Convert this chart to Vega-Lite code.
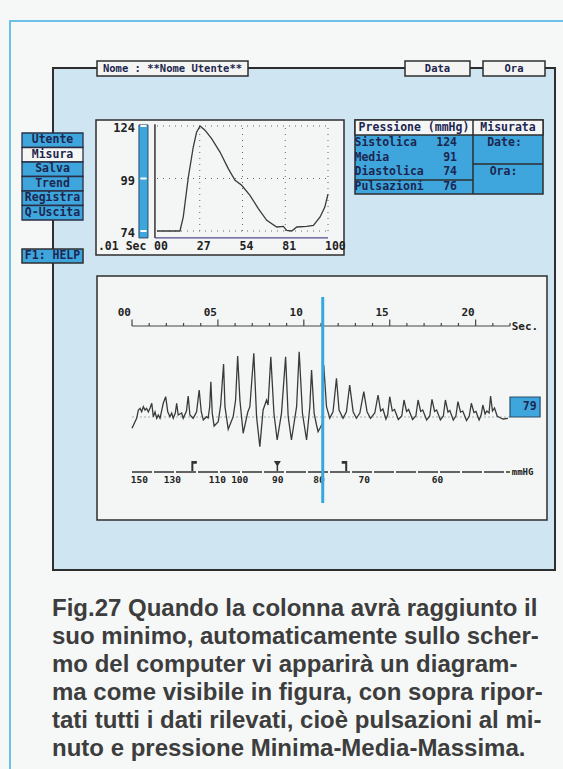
{
"$schema": "https://vega.github.io/schema/vega-lite/v6.json",
"width": 502, "height": 502, "autosize": "none",
"padding": {"left": 53, "top": 68, "right": 8, "bottom": 199},
"background": "#f6f8f8",
"config": {"view": {"fill": "#cfe5f1", "stroke": "#2e2e2e", "strokeWidth": 2}, "text": {"font": "DejaVu Sans Mono", "fontSize": 11.5, "fontWeight": "bold", "color": "#1d2650"}},
"datasets": {
"etichette": [{"testo":"Nome : **Nome Utente**"},{"testo":"Data"},{"testo":"Ora"},{"testo":"F1: HELP"},{"testo":"Pressione (mmHg)"},{"testo":"Misurata"},{"testo":"Date:"},{"testo":"Ora:"},{"testo":".01 Sec"},{"testo":"Sec."},{"testo":"mmHG"}],
"menu": [{"voce":"Utente"},{"voce":"Misura"},{"voce":"Salva"},{"voce":"Trend"},{"voce":"Registra"},{"voce":"Q-Uscita"}],
"pressioni": [{"voce":"Sistolica","valore":124},{"voce":"Media","valore":91},{"voce":"Diastolica","valore":74},{"voce":"Pulsazioni","valore":76}],
"tick_piccolo_x": [{"t":0,"etichetta":"00"},{"t":27,"etichetta":"27"},{"t":54,"etichetta":"54"},{"t":81,"etichetta":"81"},{"t":108,"etichetta":"100"}],
"tick_piccolo_y": [{"p":74},{"p":99},{"p":124}],
"curva": [{"t":0,"p":74},{"t":14.5,"p":74},{"t":16.6,"p":80.7},{"t":19.8,"p":99.7},{"t":22.9,"p":114},{"t":25,"p":121},{"t":27.2,"p":124},{"t":30.3,"p":122},{"t":34.5,"p":118},{"t":39.8,"p":111.6},{"t":45,"p":103.7},{"t":49.3,"p":98.1},{"t":53.5,"p":95.8},{"t":58.7,"p":91},{"t":64,"p":84.7},{"t":69.3,"p":79.1},{"t":75.6,"p":75.9},{"t":79.8,"p":76.2},{"t":81.9,"p":74.3},{"t":85.1,"p":74},{"t":88.3,"p":75.9},{"t":94.6,"p":76.2},{"t":98.8,"p":76.7},{"t":103,"p":80.7},{"t":106,"p":85.4},{"t":108,"p":91.5}],
"onda": [{"t":0,"a":-1.13},{"t":0.27,"a":-0.13},{"t":0.37,"a":0.7},{"t":0.47,"a":0.87},{"t":0.56,"a":0.53},{"t":0.66,"a":1.03},{"t":0.76,"a":0.7},{"t":0.85,"a":0.87},{"t":0.95,"a":0.5},{"t":1.05,"a":0.9},{"t":1.15,"a":1.37},{"t":1.24,"a":0.03},{"t":1.34,"a":0.5},{"t":1.44,"a":-0.13},{"t":1.53,"a":0.2},{"t":1.63,"a":-0.13},{"t":1.82,"a":1.37},{"t":1.96,"a":2.03},{"t":2.08,"a":0.53},{"t":2.21,"a":0.03},{"t":2.31,"a":0.4},{"t":2.4,"a":-0.13},{"t":2.52,"a":0.4},{"t":2.6,"a":1.37},{"t":2.69,"a":0.2},{"t":2.89,"a":0.4},{"t":2.98,"a":-0.13},{"t":3.17,"a":0.6},{"t":3.27,"a":2.1},{"t":3.37,"a":0.2},{"t":3.56,"a":-0.13},{"t":3.76,"a":0.53},{"t":3.91,"a":2.7},{"t":4.03,"a":0.53},{"t":4.15,"a":-0.3},{"t":4.34,"a":0.03},{"t":4.43,"a":-0.1},{"t":4.52,"a":1.0},{"t":4.59,"a":3.53},{"t":4.67,"a":0.37},{"t":4.78,"a":-0.9},{"t":5.02,"a":-0.47},{"t":5.16,"a":1.2},{"t":5.33,"a":5.3},{"t":5.41,"a":1.03},{"t":5.6,"a":-1.23},{"t":5.89,"a":0.03},{"t":6.03,"a":1.7},{"t":6.15,"a":6.1},{"t":6.28,"a":1.7},{"t":6.47,"a":-1.63},{"t":6.74,"a":0.5},{"t":6.86,"a":1.03},{"t":7.09,"a":6.37},{"t":7.25,"a":0.03},{"t":7.44,"a":-2.97},{"t":7.63,"a":0.7},{"t":7.83,"a":1.7},{"t":7.92,"a":1.2},{"t":8.08,"a":6.03},{"t":8.26,"a":0.37},{"t":8.45,"a":-2.3},{"t":8.7,"a":0.37},{"t":8.94,"a":6.03},{"t":9.09,"a":0.03},{"t":9.28,"a":-2.3},{"t":9.58,"a":1.03},{"t":9.73,"a":6.53},{"t":9.92,"a":0.37},{"t":10.16,"a":-2.3},{"t":10.35,"a":1.03},{"t":10.45,"a":4.7},{"t":10.6,"a":0.37},{"t":10.74,"a":-0.8},{"t":10.83,"a":-1.47},{"t":10.97,"a":-1.03},{"t":11.09,"a":-0.63},{"t":11.16,"a":5.2},{"t":11.32,"a":1.03},{"t":11.51,"a":-0.13},{"t":11.7,"a":0.53},{"t":11.9,"a":3.87},{"t":12.05,"a":0.7},{"t":12.28,"a":-0.13},{"t":12.48,"a":0.53},{"t":12.67,"a":3.2},{"t":12.87,"a":0.53},{"t":13.06,"a":-0.13},{"t":13.26,"a":0.4},{"t":13.49,"a":2.53},{"t":13.68,"a":0.53},{"t":13.88,"a":-0.13},{"t":14.13,"a":0.4},{"t":14.32,"a":2.2},{"t":14.47,"a":0.6},{"t":14.6,"a":0.8},{"t":14.78,"a":-0.2},{"t":14.88,"a":0.2},{"t":15.0,"a":2.03},{"t":15.15,"a":0.6},{"t":15.28,"a":0.75},{"t":15.5,"a":-0.25},{"t":15.7,"a":0.1},{"t":15.83,"a":1.7},{"t":15.98,"a":0.55},{"t":16.1,"a":0.75},{"t":16.33,"a":-0.25},{"t":16.52,"a":0.1},{"t":16.65,"a":1.7},{"t":16.8,"a":0.55},{"t":16.92,"a":0.7},{"t":17.15,"a":-0.3},{"t":17.33,"a":0.1},{"t":17.46,"a":1.77},{"t":17.61,"a":0.55},{"t":17.73,"a":0.7},{"t":17.95,"a":-0.3},{"t":18.12,"a":0.1},{"t":18.24,"a":1.7},{"t":18.39,"a":0.5},{"t":18.5,"a":0.65},{"t":18.7,"a":-0.3},{"t":18.85,"a":0.1},{"t":18.97,"a":1.53},{"t":19.12,"a":0.5},{"t":19.25,"a":0.6},{"t":19.47,"a":-0.35},{"t":19.63,"a":0.1},{"t":19.75,"a":1.37},{"t":19.9,"a":0.45},{"t":20.02,"a":0.55},{"t":20.2,"a":-0.3},{"t":20.32,"a":0.2},{"t":20.42,"a":1.2},{"t":20.55,"a":0.3},{"t":20.65,"a":0.6},{"t":20.78,"a":0.4},{"t":20.87,"a":2.1},{"t":20.98,"a":0.6},{"t":21.1,"a":0.9},{"t":21.25,"a":0.1},{"t":21.45,"a":-0.1},{"t":21.6,"a":-0.2},{"t":21.88,"a":-0.13}],
"secondi": [{"s":0},{"s":1},{"s":2},{"s":3},{"s":4},{"s":5},{"s":6},{"s":7},{"s":8},{"s":9},{"s":10},{"s":11},{"s":12},{"s":13},{"s":14},{"s":15},{"s":16},{"s":17},{"s":18},{"s":19},{"s":20},{"s":21},{"s":22}],
"cuffia": [{"mmHg":150,"t":0.43},{"mmHg":130,"t":2.35},{"mmHg":110,"t":4.97},{"mmHg":100,"t":6.27},{"mmHg":90,"t":8.48},{"mmHg":80,"t":10.88},{"mmHg":70,"t":13.52},{"mmHg":60,"t":17.78}],
"marcatori": [{"marcatore":"Sistolica","t":3.6},{"marcatore":"Media","t":8.46},{"marcatore":"Diastolica","t":12.38}],
"cursore": [{"istante":11.1}],
"frequenza": [{"bpm":79}],
"didascalia": [{"riga":1,"testo":"Fig.27 Quando la colonna avrà raggiunto il"},{"riga":2,"testo":"suo minimo, automaticamente sullo scher-"},{"riga":3,"testo":"mo del computer vi apparirà un diagram-"},{"riga":4,"testo":"ma come visibile in figura, con sopra ripor-"},{"riga":5,"testo":"tati tutti i dati rilevati, cioè pulsazioni al mi-"},{"riga":6,"testo":"nuto e pressione Minima-Media-Massima."}]
},
"resolve": {"scale": {"x": "independent", "y": "independent"}},
"layer": [
{"layer": [
{"data":{"values":[{"riquadro":"pagina"}]},"mark":{"type":"rect","fill":"#ffffff","fillOpacity":0,"stroke":"#6cc1e8","strokeWidth":2},"encoding":{"x":{"datum":-4.3,"scale":{"domain":[0,50.2],"range":[0,502],"nice":false,"zero":false},"axis":null},"x2":{"datum":55},"y":{"datum":-4.7,"scale":{"domain":[0,50.2],"range":[0,502],"nice":false,"zero":false},"axis":null},"y2":{"datum":75}}},
{"data":{"values":[{"riquadro":"grafico pressione"}]},"mark":{"type":"rect","fill":"#f4f6f5","stroke":"#2e2e2e","strokeWidth":1.5},"encoding":{"x":{"datum":4.3,"scale":{"domain":[0,50.2],"range":[0,502],"nice":false,"zero":false},"axis":null},"x2":{"datum":29.1},"y":{"datum":5.2,"scale":{"domain":[0,50.2],"range":[0,502],"nice":false,"zero":false},"axis":null},"y2":{"datum":18.7}}},
{"data":{"values":[{"riquadro":"oscillometria"}]},"mark":{"type":"rect","fill":"#f4f6f5","stroke":"#2e2e2e","strokeWidth":1.5},"encoding":{"x":{"datum":4.4,"scale":{"domain":[0,50.2],"range":[0,502],"nice":false,"zero":false},"axis":null},"x2":{"datum":49.4},"y":{"datum":20.8,"scale":{"domain":[0,50.2],"range":[0,502],"nice":false,"zero":false},"axis":null},"y2":{"datum":45.2}}},
{"data":{"values":[{"riquadro":"tabella"}]},"mark":{"type":"rect","fill":"#3ea6dc","stroke":"#2e2e2e","strokeWidth":1.5},"encoding":{"x":{"datum":30.2,"scale":{"domain":[0,50.2],"range":[0,502],"nice":false,"zero":false},"axis":null},"x2":{"datum":49.0},"y":{"datum":5.2,"scale":{"domain":[0,50.2],"range":[0,502],"nice":false,"zero":false},"axis":null},"y2":{"datum":12.6}}},
{"data":{"values":[{"riquadro":"intestazione"}]},"mark":{"type":"rect","fill":"#f4f6f5","stroke":"#2e2e2e","strokeWidth":1.5},"encoding":{"x":{"datum":30.2,"scale":{"domain":[0,50.2],"range":[0,502],"nice":false,"zero":false},"axis":null},"x2":{"datum":49.0},"y":{"datum":5.2,"scale":{"domain":[0,50.2],"range":[0,502],"nice":false,"zero":false},"axis":null},"y2":{"datum":6.7}}},
{"data":{"values":[{"riquadro":"divisore"}]},"mark":{"type":"rule","stroke":"#2e2e2e","strokeWidth":1.5},"encoding":{"x":{"datum":42.0,"scale":{"domain":[0,50.2],"range":[0,502],"nice":false,"zero":false},"axis":null},"y":{"datum":5.2,"scale":{"domain":[0,50.2],"range":[0,502],"nice":false,"zero":false},"axis":null},"y2":{"datum":12.6}}},
{"data":{"values":[{"riquadro":"divisore"}]},"mark":{"type":"rule","stroke":"#2e2e2e","strokeWidth":1.5},"encoding":{"x":{"datum":30.2,"scale":{"domain":[0,50.2],"range":[0,502],"nice":false,"zero":false},"axis":null},"x2":{"datum":42.0},"y":{"datum":11.2,"scale":{"domain":[0,50.2],"range":[0,502],"nice":false,"zero":false},"axis":null}}},
{"data":{"values":[{"riquadro":"divisore"}]},"mark":{"type":"rule","stroke":"#2e2e2e","strokeWidth":1.5},"encoding":{"x":{"datum":42.0,"scale":{"domain":[0,50.2],"range":[0,502],"nice":false,"zero":false},"axis":null},"x2":{"datum":49.0},"y":{"datum":9.6,"scale":{"domain":[0,50.2],"range":[0,502],"nice":false,"zero":false},"axis":null}}},
{"data":{"values":[{"riquadro":"scheda"}]},"mark":{"type":"rect","fill":"#f4f5f3","stroke":"#2e2e2e","strokeWidth":1.5},"encoding":{"x":{"datum":4.4,"scale":{"domain":[0,50.2],"range":[0,502],"nice":false,"zero":false},"axis":null},"x2":{"datum":19.5},"y":{"datum":-0.7,"scale":{"domain":[0,50.2],"range":[0,502],"nice":false,"zero":false},"axis":null},"y2":{"datum":0.8}}},
{"data":{"values":[{"riquadro":"scheda"}]},"mark":{"type":"rect","fill":"#f4f5f3","stroke":"#2e2e2e","strokeWidth":1.5},"encoding":{"x":{"datum":35.2,"scale":{"domain":[0,50.2],"range":[0,502],"nice":false,"zero":false},"axis":null},"x2":{"datum":41.7},"y":{"datum":-0.7,"scale":{"domain":[0,50.2],"range":[0,502],"nice":false,"zero":false},"axis":null},"y2":{"datum":0.8}}},
{"data":{"values":[{"riquadro":"scheda"}]},"mark":{"type":"rect","fill":"#f4f5f3","stroke":"#2e2e2e","strokeWidth":1.5},"encoding":{"x":{"datum":43.0,"scale":{"domain":[0,50.2],"range":[0,502],"nice":false,"zero":false},"axis":null},"x2":{"datum":49.2},"y":{"datum":-0.7,"scale":{"domain":[0,50.2],"range":[0,502],"nice":false,"zero":false},"axis":null},"y2":{"datum":0.8}}},
{"data":{"values":[{"riquadro":"aiuto"}]},"mark":{"type":"rect","fill":"#3ea6dc","stroke":"#2e2e2e","strokeWidth":1.5},"encoding":{"x":{"datum":-3.1,"scale":{"domain":[0,50.2],"range":[0,502],"nice":false,"zero":false},"axis":null},"x2":{"datum":3.0},"y":{"datum":18.1,"scale":{"domain":[0,50.2],"range":[0,502],"nice":false,"zero":false},"axis":null},"y2":{"datum":19.5}}},
{"data":{"name":"etichette"},"transform":[{"filter":"datum.testo === 'Nome : **Nome Utente**'"}],"mark":{"type":"text","align":"center","baseline":"middle","fontSize":10.5},"encoding":{"x":{"datum":11.95,"scale":{"domain":[0,50.2],"range":[0,502],"nice":false,"zero":false},"axis":null},"y":{"datum":0.05,"scale":{"domain":[0,50.2],"range":[0,502],"nice":false,"zero":false},"axis":null},"text":{"field":"testo"}}},
{"data":{"name":"etichette"},"transform":[{"filter":"datum.testo === 'Data'"}],"mark":{"type":"text","align":"center","baseline":"middle","fontSize":10.5},"encoding":{"x":{"datum":38.45,"scale":{"domain":[0,50.2],"range":[0,502],"nice":false,"zero":false},"axis":null},"y":{"datum":0.05,"scale":{"domain":[0,50.2],"range":[0,502],"nice":false,"zero":false},"axis":null},"text":{"field":"testo"}}},
{"data":{"name":"etichette"},"transform":[{"filter":"datum.testo === 'Ora'"}],"mark":{"type":"text","align":"center","baseline":"middle","fontSize":10.5},"encoding":{"x":{"datum":46.1,"scale":{"domain":[0,50.2],"range":[0,502],"nice":false,"zero":false},"axis":null},"y":{"datum":0.05,"scale":{"domain":[0,50.2],"range":[0,502],"nice":false,"zero":false},"axis":null},"text":{"field":"testo"}}},
{"data":{"name":"etichette"},"transform":[{"filter":"datum.testo === 'F1: HELP'"}],"mark":{"type":"text","align":"center","baseline":"middle"},"encoding":{"x":{"datum":-0.05,"scale":{"domain":[0,50.2],"range":[0,502],"nice":false,"zero":false},"axis":null},"y":{"datum":18.82,"scale":{"domain":[0,50.2],"range":[0,502],"nice":false,"zero":false},"axis":null},"text":{"field":"testo"}}},
{"data":{"name":"etichette"},"transform":[{"filter":"datum.testo === 'Pressione (mmHg)'"}],"mark":{"type":"text","align":"center","baseline":"middle"},"encoding":{"x":{"datum":36.1,"scale":{"domain":[0,50.2],"range":[0,502],"nice":false,"zero":false},"axis":null},"y":{"datum":5.97,"scale":{"domain":[0,50.2],"range":[0,502],"nice":false,"zero":false},"axis":null},"text":{"field":"testo"}}},
{"data":{"name":"etichette"},"transform":[{"filter":"datum.testo === 'Misurata'"}],"mark":{"type":"text","align":"center","baseline":"middle"},"encoding":{"x":{"datum":45.5,"scale":{"domain":[0,50.2],"range":[0,502],"nice":false,"zero":false},"axis":null},"y":{"datum":5.97,"scale":{"domain":[0,50.2],"range":[0,502],"nice":false,"zero":false},"axis":null},"text":{"field":"testo"}}},
{"data":{"name":"etichette"},"transform":[{"filter":"datum.testo === 'Date:'"}],"mark":{"type":"text","align":"center","baseline":"middle"},"encoding":{"x":{"datum":45.15,"scale":{"domain":[0,50.2],"range":[0,502],"nice":false,"zero":false},"axis":null},"y":{"datum":7.5,"scale":{"domain":[0,50.2],"range":[0,502],"nice":false,"zero":false},"axis":null},"text":{"field":"testo"}}},
{"data":{"name":"etichette"},"transform":[{"filter":"datum.testo === 'Ora:'"}],"mark":{"type":"text","align":"center","baseline":"middle"},"encoding":{"x":{"datum":45.05,"scale":{"domain":[0,50.2],"range":[0,502],"nice":false,"zero":false},"axis":null},"y":{"datum":10.4,"scale":{"domain":[0,50.2],"range":[0,502],"nice":false,"zero":false},"axis":null},"text":{"field":"testo"}}}
]},
{"data":{"name":"menu"},"layer":[
{"mark":{"type":"rect","stroke":"#2a2f45","strokeWidth":1.3},"encoding":{"x":{"datum":-3.1,"scale":{"domain":[0,50.2],"range":[0,502],"nice":false,"zero":false},"axis":null},"x2":{"datum":3.0},"y":{"field":"voce","type":"nominal","sort":null,"scale":{"type":"band","range":[65,152],"paddingInner":0,"paddingOuter":0},"axis":null},"fill":{"condition":{"test":"datum.voce === 'Misura'","value":"#f6f7f5"},"value":"#3ea6dc"}}},
{"mark":{"type":"text","align":"center","baseline":"middle"},"encoding":{"x":{"datum":-0.05,"scale":{"domain":[0,50.2],"range":[0,502],"nice":false,"zero":false},"axis":null},"y":{"field":"voce","type":"nominal","sort":null,"scale":{"type":"band","range":[65,152],"paddingInner":0,"paddingOuter":0},"axis":null},"text":{"field":"voce"}}}
]},
{"layer":[
{"data":{"name":"tick_piccolo_y"},"mark":{"type":"rule","stroke":"#666666","strokeWidth":1,"strokeDash":[1,5]},"encoding":{"y":{"field":"p","type":"quantitative","scale":{"domain":[74,124],"range":[163,58],"nice":false,"zero":false},"axis":null},"x":{"datum":0,"scale":{"domain":[0,108],"range":[104,275],"nice":false,"zero":false},"axis":null},"x2":{"datum":108}}},
{"data":{"name":"tick_piccolo_x"},"transform":[{"filter":"datum.t > 0"}],"mark":{"type":"rule","stroke":"#666666","strokeWidth":1,"strokeDash":[1,5]},"encoding":{"x":{"field":"t","type":"quantitative","scale":{"domain":[0,108],"range":[104,275],"nice":false,"zero":false},"axis":null},"y":{"datum":74,"scale":{"domain":[74,124],"range":[163,58],"nice":false,"zero":false},"axis":null},"y2":{"datum":124}}},
{"data":{"values":[{"asse":"pressione"}]},"mark":{"type":"rule","stroke":"#333333","strokeWidth":1.5},"encoding":{"x":{"datum":-1.3,"scale":{"domain":[0,108],"range":[104,275],"nice":false,"zero":false},"axis":null},"y":{"datum":70.7,"scale":{"domain":[74,124],"range":[163,58],"nice":false,"zero":false},"axis":null},"y2":{"datum":124.8}}},
{"data":{"values":[{"asse":"tempo"}]},"mark":{"type":"rule","stroke":"#4f4a8c","strokeWidth":1.2},"encoding":{"x":{"datum":-1.3,"scale":{"domain":[0,108],"range":[104,275],"nice":false,"zero":false},"axis":null},"x2":{"datum":108},"y":{"datum":70.7,"scale":{"domain":[74,124],"range":[163,58],"nice":false,"zero":false},"axis":null}}},
{"data":{"values":[{"indicatore":"colonna"}]},"mark":{"type":"rect","fill":"#3ea6dc","stroke":"#2b4c6b","strokeWidth":1},"encoding":{"x":{"datum":-11.4,"scale":{"domain":[0,108],"range":[104,275],"nice":false,"zero":false},"axis":null},"x2":{"datum":-5.7},"y":{"datum":124.5,"scale":{"domain":[74,124],"range":[163,58],"nice":false,"zero":false},"axis":null},"y2":{"datum":70.7}}},
{"data":{"name":"tick_piccolo_y"},"mark":{"type":"rule","stroke":"#ffffff","strokeWidth":2},"encoding":{"y":{"field":"p","type":"quantitative","scale":{"domain":[74,124],"range":[163,58],"nice":false,"zero":false},"axis":null},"x":{"datum":-10.5,"scale":{"domain":[0,108],"range":[104,275],"nice":false,"zero":false},"axis":null},"x2":{"datum":-6.6}}},
{"data":{"name":"tick_piccolo_y"},"mark":{"type":"text","align":"right","baseline":"middle","dy":2,"fontSize":12,"color":"#222222"},"encoding":{"y":{"field":"p","type":"quantitative","scale":{"domain":[74,124],"range":[163,58],"nice":false,"zero":false},"axis":null},"x":{"datum":-13.9,"scale":{"domain":[0,108],"range":[104,275],"nice":false,"zero":false},"axis":null},"text":{"field":"p","type":"quantitative"}}},
{"data":{"name":"tick_piccolo_x"},"mark":{"type":"text","align":"left","baseline":"middle","dx":-3,"fontSize":11.5,"color":"#222222"},"encoding":{"x":{"field":"t","type":"quantitative","scale":{"domain":[0,108],"range":[104,275],"nice":false,"zero":false},"axis":null},"y":{"datum":66.4,"scale":{"domain":[74,124],"range":[163,58],"nice":false,"zero":false},"axis":null},"text":{"field":"etichetta"}}},
{"data":{"name":"etichette"},"transform":[{"filter":"datum.testo === '.01 Sec'"}],"mark":{"type":"text","align":"left","baseline":"middle","fontSize":11.5,"color":"#222222"},"encoding":{"x":{"datum":-37.3,"scale":{"domain":[0,108],"range":[104,275],"nice":false,"zero":false},"axis":null},"y":{"datum":66.4,"scale":{"domain":[74,124],"range":[163,58],"nice":false,"zero":false},"axis":null},"text":{"field":"testo"}}},
{"data":{"name":"curva"},"mark":{"type":"line","stroke":"#3a3a3a","strokeWidth":1.3},"encoding":{"x":{"field":"t","type":"quantitative","scale":{"domain":[0,108],"range":[104,275],"nice":false,"zero":false},"axis":null},"y":{"field":"p","type":"quantitative","scale":{"domain":[74,124],"range":[163,58],"nice":false,"zero":false},"axis":null}}}
]},
{"data":{"name":"pressioni"},"layer":[
{"mark":{"type":"text","align":"left","baseline":"middle"},"encoding":{"x":{"datum":30.15,"scale":{"domain":[0,50.2],"range":[0,502],"nice":false,"zero":false},"axis":null},"y":{"field":"voce","type":"nominal","sort":null,"scale":{"type":"band","range":[68,126],"paddingInner":0,"paddingOuter":0},"axis":null},"text":{"field":"voce"}}},
{"mark":{"type":"text","align":"right","baseline":"middle"},"encoding":{"x":{"datum":40.4,"scale":{"domain":[0,50.2],"range":[0,502],"nice":false,"zero":false},"axis":null},"y":{"field":"voce","type":"nominal","sort":null,"scale":{"type":"band","range":[68,126],"paddingInner":0,"paddingOuter":0},"axis":null},"text":{"field":"valore","type":"quantitative"}}}
]},
{"layer":[
{"data":{"values":[{"riferimento":"zero"}]},"mark":{"type":"rule","stroke":"#9fb3a8","strokeWidth":1,"strokeDash":[2,2]},"encoding":{"y":{"datum":0,"scale":{"domain":[-12,12],"range":[469,229],"nice":false,"zero":false},"axis":null},"x":{"datum":0,"scale":{"domain":[0,22],"range":[79,457],"nice":false,"zero":false},"axis":null},"x2":{"datum":22}}},
{"data":{"name":"onda"},"mark":{"type":"line","stroke":"#3a3a3a","strokeWidth":1.3},"encoding":{"x":{"field":"t","type":"quantitative","scale":{"domain":[0,22],"range":[79,457],"nice":false,"zero":false},"axis":null},"y":{"field":"a","type":"quantitative","scale":{"domain":[-12,12],"range":[469,229],"nice":false,"zero":false},"axis":null}}},
{"data":{"values":[{"asse":"secondi"}]},"mark":{"type":"rule","stroke":"#444444","strokeWidth":1.2},"encoding":{"y":{"datum":9.1,"scale":{"domain":[-12,12],"range":[469,229],"nice":false,"zero":false},"axis":null},"x":{"datum":0,"scale":{"domain":[0,22],"range":[79,457],"nice":false,"zero":false},"axis":null},"x2":{"datum":22}}},
{"data":{"name":"secondi"},"transform":[{"filter":"datum.s % 5 !== 0"}],"mark":{"type":"rule","stroke":"#444444","strokeWidth":1.2},"encoding":{"x":{"field":"s","type":"quantitative","scale":{"domain":[0,22],"range":[79,457],"nice":false,"zero":false},"axis":null},"y":{"datum":9.1,"scale":{"domain":[-12,12],"range":[469,229],"nice":false,"zero":false},"axis":null},"y2":{"datum":9.4}}},
{"data":{"name":"secondi"},"transform":[{"filter":"datum.s % 5 === 0"}],"mark":{"type":"rule","stroke":"#444444","strokeWidth":1.2},"encoding":{"x":{"field":"s","type":"quantitative","scale":{"domain":[0,22],"range":[79,457],"nice":false,"zero":false},"axis":null},"y":{"datum":9.1,"scale":{"domain":[-12,12],"range":[469,229],"nice":false,"zero":false},"axis":null},"y2":{"datum":9.75}}},
{"data":{"name":"secondi"},"transform":[{"filter":"datum.s % 5 === 0"}],"mark":{"type":"text","align":"right","baseline":"middle","dx":-1,"fontSize":11,"color":"#222222"},"encoding":{"x":{"field":"s","type":"quantitative","scale":{"domain":[0,22],"range":[79,457],"nice":false,"zero":false},"axis":null},"y":{"datum":10.45,"scale":{"domain":[-12,12],"range":[469,229],"nice":false,"zero":false},"axis":null},"text":{"field":"s","type":"quantitative","format":"02d"}}},
{"data":{"name":"etichette"},"transform":[{"filter":"datum.testo === 'Sec.'"}],"mark":{"type":"text","align":"left","baseline":"middle","fontSize":11,"color":"#222222"},"encoding":{"x":{"datum":22.1,"scale":{"domain":[0,22],"range":[79,457],"nice":false,"zero":false},"axis":null},"y":{"datum":9.0,"scale":{"domain":[-12,12],"range":[469,229],"nice":false,"zero":false},"axis":null},"text":{"field":"testo"}}},
{"data":{"values":[{"scala":"mmHg"}]},"mark":{"type":"rule","stroke":"#333333","strokeWidth":1.4,"strokeDash":[20,2]},"encoding":{"y":{"datum":-5.5,"scale":{"domain":[-12,12],"range":[469,229],"nice":false,"zero":false},"axis":null},"x":{"datum":0,"scale":{"domain":[0,22],"range":[79,457],"nice":false,"zero":false},"axis":null},"x2":{"datum":22}}},
{"data":{"name":"cuffia"},"mark":{"type":"text","align":"center","baseline":"middle","fontSize":9.5,"color":"#222222"},"encoding":{"x":{"field":"t","type":"quantitative","scale":{"domain":[0,22],"range":[79,457],"nice":false,"zero":false},"axis":null},"y":{"datum":-6.3,"scale":{"domain":[-12,12],"range":[469,229],"nice":false,"zero":false},"axis":null},"text":{"field":"mmHg","type":"quantitative"}}},
{"data":{"name":"etichette"},"transform":[{"filter":"datum.testo === 'mmHG'"}],"mark":{"type":"text","align":"left","baseline":"middle","fontSize":9,"color":"#222222"},"encoding":{"x":{"datum":22.1,"scale":{"domain":[0,22],"range":[79,457],"nice":false,"zero":false},"axis":null},"y":{"datum":-5.5,"scale":{"domain":[-12,12],"range":[469,229],"nice":false,"zero":false},"axis":null},"text":{"field":"testo"}}},
{"data":{"name":"marcatori"},"mark":{"type":"point","filled":true,"color":"#333333","opacity":1,"size":100},"encoding":{"x":{"field":"t","type":"quantitative","scale":{"domain":[0,22],"range":[79,457],"nice":false,"zero":false},"axis":null},"y":{"datum":-4.9,"scale":{"domain":[-12,12],"range":[469,229],"nice":false,"zero":false},"axis":null},"shape":{"field":"marcatore","type":"nominal","scale":{"domain":["Sistolica","Media","Diastolica"],"range":["M-0.5,1 L-0.5,-1 L0.6,-1 L0.6,-0.45 L-0.1,-0.45 L-0.1,1 Z","M-0.7,-1 L0.7,-1 L0.15,-0.1 L0.15,1 L-0.15,1 L-0.15,-0.1 Z","M0.5,1 L0.5,-1 L-0.6,-1 L-0.6,-0.45 L0.1,-0.45 L0.1,1 Z"]},"legend":null}}},
{"data":{"name":"frequenza"},"mark":{"type":"rect","fill":"#3ea6dc","stroke":"#2b4c6b","strokeWidth":1.2},"encoding":{"x":{"datum":22.0,"scale":{"domain":[0,22],"range":[79,457],"nice":false,"zero":false},"axis":null},"x2":{"datum":23.75},"y":{"datum":2.0,"scale":{"domain":[-12,12],"range":[469,229],"nice":false,"zero":false},"axis":null},"y2":{"datum":0}}},
{"data":{"name":"frequenza"},"mark":{"type":"text","align":"right","baseline":"middle","fontSize":11.5},"encoding":{"x":{"datum":23.55,"scale":{"domain":[0,22],"range":[79,457],"nice":false,"zero":false},"axis":null},"y":{"datum":1.0,"scale":{"domain":[-12,12],"range":[469,229],"nice":false,"zero":false},"axis":null},"text":{"field":"bpm","type":"quantitative"}}},
{"data":{"name":"cursore"},"mark":{"type":"rule","stroke":"#3aa6de","strokeWidth":3},"encoding":{"x":{"field":"istante","type":"quantitative","scale":{"domain":[0,22],"range":[79,457],"nice":false,"zero":false},"axis":null},"y":{"datum":12,"scale":{"domain":[-12,12],"range":[469,229],"nice":false,"zero":false},"axis":null},"y2":{"datum":-8.6}}}
]},
{"data":{"name":"didascalia"},"mark":{"type":"text","align":"left","baseline":"alphabetic","dy":9,"font":"Liberation Sans","fontSize":24,"fontWeight":"bold","color":"#3d3d3d"},"encoding":{"x":{"datum":-0.1,"scale":{"domain":[0,50.2],"range":[0,502],"nice":false,"zero":false},"axis":null},"y":{"field":"riga","type":"ordinal","scale":{"type":"band","range":[525,693],"paddingInner":0,"paddingOuter":0},"axis":null},"text":{"field":"testo"}}}
]
}
